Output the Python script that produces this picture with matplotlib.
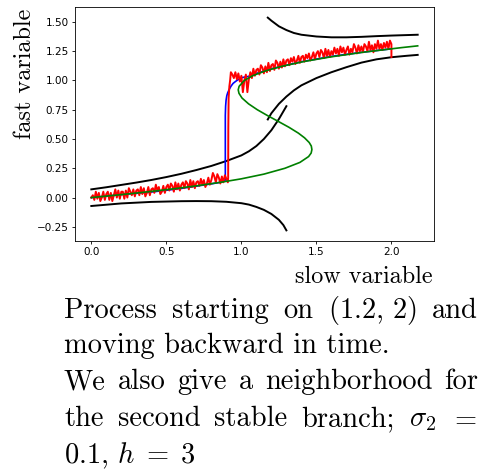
import numpy as np
import matplotlib
matplotlib.use("Agg")
import matplotlib.pyplot as plt

plt.rcParams["mathtext.fontset"] = "cm"

# critical manifold (S-shaped)
green_x = [0.0, 0.16, 0.31, 0.45, 0.58, 0.70, 0.86, 1.00, 1.15, 1.29, 1.39, 1.448, 1.465,
           1.47, 1.466, 1.452, 1.421, 1.38, 1.317, 1.246, 1.174, 1.106, 1.048, 1.004,
           0.984, 0.979, 0.985, 1.02, 1.075, 1.157, 1.268, 1.412, 1.591, 1.808, 2.067, 2.175]
green_y = [0.0, 0.02, 0.04, 0.06, 0.08, 0.10, 0.13, 0.16, 0.20, 0.25, 0.30, 0.35, 0.38,
           0.41, 0.44, 0.47, 0.51, 0.55, 0.60, 0.65, 0.70, 0.75, 0.80, 0.85,
           0.89, 0.92, 0.95, 1.00, 1.04, 1.08, 1.12, 1.16, 1.20, 1.24, 1.28, 1.295]

# neighbourhood of the first stable branch
low_top_x = [0.0, 0.1, 0.2, 0.3, 0.4, 0.5, 0.6, 0.7, 0.8, 0.9, 1.0, 1.05, 1.1, 1.15, 1.2, 1.25, 1.3]
low_top_y = [0.07, 0.088, 0.108, 0.128, 0.15, 0.175, 0.203, 0.235, 0.27, 0.312, 0.36, 0.395,
             0.44, 0.50, 0.575, 0.67, 0.78]
low_bot_x = [0.0, 0.2, 0.4, 0.6, 0.7, 0.8, 0.9, 1.0, 1.05, 1.1, 1.15, 1.2, 1.25, 1.28, 1.3]
low_bot_y = [-0.072, -0.05, -0.037, -0.031, -0.03, -0.031, -0.036, -0.048, -0.06, -0.08,
             -0.105, -0.14, -0.19, -0.235, -0.28]

# neighbourhood of the second stable branch
up_top_x = [1.176, 1.2, 1.25, 1.3, 1.35, 1.4, 1.5, 1.6, 1.7, 1.8, 1.9, 2.0, 2.1, 2.175]
up_top_y = [1.536, 1.51, 1.462, 1.43, 1.405, 1.39, 1.375, 1.368, 1.368, 1.372, 1.378, 1.383,
            1.387, 1.39]
up_bot_x = [1.176, 1.2, 1.25, 1.3, 1.35, 1.4, 1.5, 1.6, 1.7, 1.8, 1.9, 2.0, 2.1, 2.175]
up_bot_y = [0.667, 0.72, 0.80, 0.862, 0.915, 0.958, 1.02, 1.07, 1.113, 1.152, 1.18, 1.198,
            1.21, 1.218]

# deterministic path
blue_x = [0.0, 0.2, 0.4, 0.6, 0.8, 0.88, 0.893, 0.893, 0.895, 0.898, 0.903, 0.909, 0.92, 0.931,
          0.945, 0.964, 0.98, 0.998, 1.05, 1.1, 1.2, 1.4, 1.6, 1.8, 2.0]
blue_y = [0.0, 0.025, 0.047, 0.078, 0.117, 0.135, 0.15, 0.70, 0.78, 0.83, 0.87, 0.895, 0.925,
          0.951, 0.975, 0.994, 1.008, 1.023, 1.035, 1.06, 1.10, 1.16, 1.205, 1.24, 1.27]

# noisy path, x = 2.00 down to 0.94 in steps of 0.01
red_up_y = [1.31, 1.34, 1.27, 1.33, 1.28, 1.32, 1.26, 1.31, 1.27, 1.34,
            1.27, 1.31, 1.24, 1.30, 1.26, 1.33, 1.25, 1.29, 1.31, 1.24,
            1.29, 1.25, 1.30, 1.23, 1.28, 1.31, 1.24, 1.27, 1.22, 1.29,
            1.26, 1.22, 1.28, 1.24, 1.29, 1.21, 1.27, 1.23, 1.28, 1.22,
            1.25, 1.20, 1.26, 1.21, 1.27, 1.19, 1.24, 1.26, 1.20, 1.25,
            1.23, 1.18, 1.24, 1.20, 1.17, 1.23, 1.19, 1.22, 1.16, 1.21,
            1.20, 1.15, 1.21, 1.17, 1.14, 1.20, 1.16, 1.19, 1.13, 1.18,
            1.17, 1.12, 1.18, 1.11, 1.16, 1.10, 1.15, 1.17, 1.09, 1.14,
            1.13, 1.08, 1.15, 1.07, 1.12, 1.06, 1.11, 1.13, 1.05, 1.10,
            1.09, 1.04, 1.10, 1.02, 1.07, 1.01, 0.90, 1.05, 1.00, 0.90,
            1.04, 0.99, 1.06, 1.01, 1.07, 1.02, 1.05]
# the fall to the first branch
red_jump_x = [0.93, 0.925, 0.92, 0.915, 0.913, 0.912, 0.912, 0.91]
red_jump_y = [1.07, 1.00, 0.95, 0.85, 0.60, 0.30, 0.17, 0.13]
# x = 0.90 down to 0.00 in steps of 0.01
red_low_y = [0.16, 0.19, 0.13, 0.18, 0.12, 0.17, 0.20, 0.13, 0.18, 0.21,
             0.15, 0.11, 0.17, 0.12, 0.09, 0.15, 0.11, 0.16, 0.10, 0.14,
             0.13, 0.08, 0.14, 0.09, 0.15, 0.07, 0.12, 0.14, 0.08, 0.13,
             0.11, 0.06, 0.12, 0.07, 0.13, 0.05, 0.10, 0.12, 0.06, 0.11,
             0.09, 0.04, 0.10, 0.05, 0.03, 0.09, 0.06, 0.11, 0.04, 0.08,
             0.07, 0.02, 0.09, 0.04, 0.01, 0.08, 0.03, 0.09, 0.02, 0.07,
             0.06, 0.01, 0.07, 0.02, 0.05, 0.08, 0.00, 0.06, -0.01, 0.05,
             0.05, -0.01, 0.06, 0.00, 0.07, 0.02, -0.03, 0.04, -0.02, 0.05,
             0.03, -0.02, 0.05, 0.00, -0.03, 0.04, -0.01, 0.05, -0.02, 0.02,
             0.00]

red_x = np.concatenate([[2.0], np.round(np.arange(2.00, 0.935, -0.01), 2), red_jump_x,
                        np.round(np.arange(0.90, -0.005, -0.01), 2)])
red_y = np.concatenate([[1.20], red_up_y, red_jump_y, red_low_y])

W, H = 484, 471
fig = plt.figure(figsize=(W / 100, H / 100), dpi=100)
ax = fig.add_axes([75 / W, 1 - 241 / H, 359 / W, 234 / H])

for xs, ys in [(low_top_x, low_top_y), (low_bot_x, low_bot_y),
               (up_top_x, up_top_y), (up_bot_x, up_bot_y)]:
    ax.plot(xs, ys, color="black", lw=1.4)
ax.plot(blue_x, blue_y, color="blue", lw=1.2)
ax.plot(red_x, red_y, color="red", lw=1.4)
ax.plot(green_x, green_y, color="green", lw=1.2)

ax.set_xticks([0.0, 0.5, 1.0, 1.5, 2.0])
ax.set_yticks([-0.25, 0.0, 0.25, 0.5, 0.75, 1.0, 1.25, 1.5])
ax.tick_params(labelsize=7.5, length=2.5, width=0.6, pad=2)
for s in ax.spines.values():
    s.set_linewidth(0.6)

lab = dict(family="cmr10", fontsize=17.4)
fig.text(433 / W, 1 - 283 / H, "slow variable", ha="right", va="baseline", **lab)
fig.text(36 / W, 1 - 9 / H, "fast variable", rotation=90, ha="right", va="top", **lab)

# caption, justified lines
cap = dict(family="cmr10", fontsize=20.5, va="baseline")
r = fig.canvas.get_renderer()


def justify(words, py, x0=64, x1=478):
    ts = [fig.text(0, 1 - py / H, w, **cap) for w in words]
    ws = [t.get_window_extent(r).width for t in ts]
    gap = (x1 - x0 - sum(ws)) / (len(ws) - 1)
    x = x0
    for t, w in zip(ts, ws):
        t.set_x(x / W)
        x += w + gap


justify(["Process", "starting", "on", r"$(1.2,\,2)$", "and"], 318)
fig.text(64 / W, 1 - 353 / H, "moving backward in time.", **cap)
justify(["We", "also", "give", "a", "neighborhood", "for"], 389)
justify(["the", "second", "stable", "branch;", r"$\sigma_2$", "$=$"], 426)
fig.text(64 / W, 1 - 463 / H, r"0.1, $h\;=\;3$", **cap)

fig.savefig("out.png", dpi=100)
